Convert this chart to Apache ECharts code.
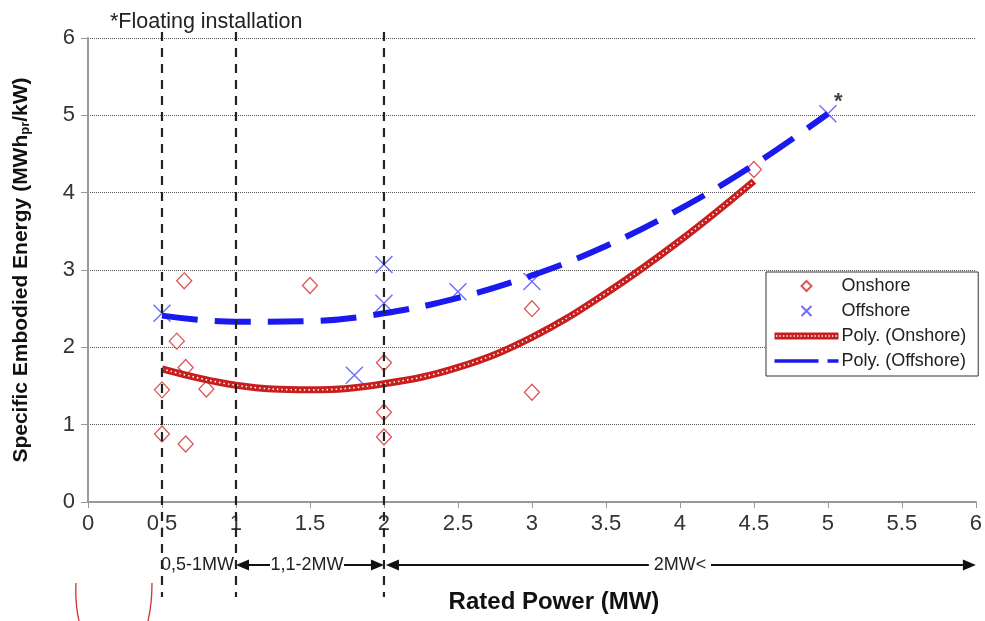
<!DOCTYPE html>
<html>
<head>
<meta charset="utf-8">
<style>
  html, body { margin: 0; padding: 0; background: #fff; }
  #main { width: 985px; height: 621px; }
</style>
<script src="https://cdn.jsdelivr.net/npm/echarts@6/dist/echarts.min.js"></script>
</head>
<body>
<div id="main"></div>
<script>
// scatter points [rated power MW, specific embodied energy]
const onshore = [
  [0.5, 0.88], [0.5, 1.45], [0.6, 2.08], [0.65, 2.86], [0.66, 1.74], [0.66, 0.75],
  [0.8, 1.46], [1.5, 2.8], [2, 1.8], [2, 1.16], [2, 0.84], [3, 2.5], [3, 1.42], [4.5, 4.3]
]
const offshore = [
  [0.5, 2.44], [1.8, 1.64], [2, 3.07], [2, 2.57], [2.5, 2.72], [3, 2.85], [5, 5.02]
]
// trend lines
const polyOnX = [0.5, 1, 1.5, 2, 2.5, 3, 3.5, 4, 4.5]
const polyOnY = [1.72, 1.51, 1.45, 1.53, 1.74, 2.13, 2.7, 3.38, 4.15]
const polyOffX = [0.5, 1, 1.5, 2, 2.5, 3, 3.5, 4, 4.5, 5]
const polyOffY = [2.41, 2.33, 2.34, 2.44, 2.64, 2.93, 3.31, 3.79, 4.36, 5.02]
// size classes
const regionBounds = [0.5, 1, 2, 6]
const regionLabels = ['0,5-1MW', '1,1-2MW', '2MW<']
const regionLabelX = [0.74, 1.48, 4.0]

const FONT = 'Liberation Sans, Arial, sans-serif'
const RED = '#d42a2a'
const BLUE = '#1a1aee'

// legend icons (64 x 12 box so nothing gets stretched)
const BOX = 'M0,0M64,12'
const iconDiamond = 'path://' + BOX + 'M32,1L37,6L32,11L27,6Z'
const iconCross = 'path://' + BOX + 'M27,1L37,11M37,1L27,11'
let iconDotted = 'path://' + BOX + 'M0,2.5H64V9.5H0Z'
for (let x = 1.5; x < 63; x += 3.5) {
  iconDotted += 'M' + x + ',5.3V6.7H' + (x + 1.4) + 'V5.3Z'
}
const iconDashed = 'path://' + BOX + 'M0,4.3H44V7.7H0ZM53,4.3H64V7.7H53Z'

const chart = echarts.init(document.getElementById('main'))

const option = {
  animation: false,
  grid: { left: 88, right: 7, top: 38, bottom: 119 },
  legend: {
    orient: 'vertical',
    left: 766,
    top: 272,
    data: [
      { name: 'Onshore', icon: iconDiamond },
      { name: 'Offshore', icon: iconCross },
      { name: 'Poly. (Onshore)', icon: iconDotted, itemStyle: { borderWidth: 0 } },
      { name: 'Poly. (Offshore)', icon: iconDashed, itemStyle: { borderWidth: 0 } },
    ],
    itemWidth: 64,
    itemHeight: 12,
    itemGap: 7,
    padding: [5, 12, 6, 6],
    backgroundColor: '#fff',
    borderColor: '#333',
    borderWidth: 1,
    textStyle: { fontSize: 18, color: '#222', fontFamily: FONT, padding: [0, 0, 0, -2] },
  },
  xAxis: {
    type: 'value',
    min: 0,
    max: 6,
    interval: 0.5,
    name: 'Rated Power (MW)',
    nameLocation: 'middle',
    nameGap: 88,
    nameTextStyle: { fontSize: 24, fontWeight: 'bold', color: '#111', fontFamily: FONT, padding: [0, 0, 0, 44] },
    axisLine: { lineStyle: { color: '#999', width: 2 } },
    axisTick: { show: true, length: 6, lineStyle: { color: '#999' } },
    axisLabel: { fontSize: 22, color: '#333', margin: 11, fontFamily: FONT },
    splitLine: { show: false },
  },
  yAxis: {
    type: 'value',
    min: 0,
    max: 6,
    interval: 1,
    name: 'Specific Embodied Energy (MWh{sub|pr}/kW)',
    nameLocation: 'middle',
    nameRotate: 90,
    nameGap: 56,
    nameTextStyle: {
      fontSize: 21, fontWeight: 'bold', color: '#111', fontFamily: FONT,
      rich: { sub: { fontSize: 13, fontWeight: 'bold', color: '#111', fontFamily: FONT, verticalAlign: 'bottom' } },
    },
    axisLine: { show: true, lineStyle: { color: '#999', width: 2 } },
    axisTick: { show: true, length: 7, lineStyle: { color: '#999' } },
    axisLabel: { fontSize: 22, color: '#333', margin: 13, fontFamily: FONT },
    splitLine: { show: true, lineStyle: { color: '#555', width: 1, type: [1, 1] } },
  },
  series: [
    {
      name: 'Onshore',
      type: 'scatter',
      symbol: 'diamond',
      symbolSize: [15, 16],
      itemStyle: { color: '#fff', borderColor: RED, borderWidth: 1.3 },
      data: onshore,
      z: 3,
    },
    {
      name: 'Offshore',
      type: 'scatter',
      symbol: 'path://M0,0L10,10M10,0L0,10',
      symbolSize: 17,
      itemStyle: { color: 'none', borderColor: '#4848ff', borderWidth: 1.4 },
      data: offshore.map(function (p, i) {
        if (i === offshore.length - 1) {
          return {
            value: p,
            label: { show: true, formatter: '*', position: [17, -12], fontSize: 22, fontWeight: 'bold', color: '#111' },
          }
        }
        return p
      }),
      z: 3,
    },
    {
      name: 'Poly. (Onshore)',
      type: 'line',
      smooth: 0.4,
      showSymbol: false,
      symbol: 'none',
      itemStyle: { color: '#c81e1e' },
      lineStyle: { color: '#c81e1e', width: 7 },
      data: polyOnX.map((x, i) => [x, polyOnY[i]]),
      z: 4,
    },
    {
      // white dots inside the red trend line
      type: 'line',
      smooth: 0.4,
      showSymbol: false,
      symbol: 'none',
      silent: true,
      lineStyle: { color: '#fff', width: 1.6, type: [1.5, 3] },
      data: polyOnX.map((x, i) => [x, polyOnY[i]]),
      z: 5,
    },
    {
      name: 'Poly. (Offshore)',
      type: 'line',
      smooth: 0.4,
      showSymbol: false,
      symbol: 'none',
      itemStyle: { color: BLUE },
      lineStyle: { color: BLUE, width: 6, type: [36, 17] },
      data: polyOffX.map((x, i) => [x, polyOffY[i]]),
      z: 4,
    },
  ],
}

chart.setOption(option)

// annotations built from axis positions
function px(x) { return chart.convertToPixel({ xAxisIndex: 0 }, x) }
function py(y) { return chart.convertToPixel({ yAxisIndex: 0 }, y) }

const graphics = []
const yTop = py(6) - 6
const yBot = py(0) + 95
regionBounds.slice(0, 3).forEach(function (b) {
  graphics.push({
    type: 'line',
    shape: { x1: px(b), y1: yTop, x2: px(b), y2: yBot },
    style: { stroke: '#222', lineWidth: 2.2, lineDash: [9, 7] },
    z: 10,
  })
})

const ry = py(0) + 63
const ah = 13, aw = 5.5
function arrowLeft(x) {
  return { type: 'polygon', shape: { points: [[x, ry], [x + ah, ry - aw], [x + ah, ry + aw]] }, style: { fill: '#111' }, z: 10 }
}
function arrowRight(x) {
  return { type: 'polygon', shape: { points: [[x, ry], [x - ah, ry - aw], [x - ah, ry + aw]] }, style: { fill: '#111' }, z: 10 }
}
function hline(x1, x2) {
  return { type: 'line', shape: { x1: x1, y1: ry, x2: x2, y2: ry }, style: { stroke: '#111', lineWidth: 2 }, z: 10 }
}
function label(txt, x) {
  return {
    type: 'text', x: x, y: ry, z: 10,
    style: { text: txt, fontSize: 18, fontFamily: FONT, fill: '#222', align: 'center', verticalAlign: 'middle' },
  }
}
graphics.push(label(regionLabels[0], px(regionLabelX[0])))
graphics.push(arrowLeft(px(1)), hline(px(1) + ah, px(1.23)))
graphics.push(label(regionLabels[1], px(regionLabelX[1])))
graphics.push(hline(px(1.73), px(2) - ah), arrowRight(px(2)))
graphics.push(arrowLeft(px(2) + 2), hline(px(2) + 2 + ah, px(3.79)))
graphics.push(label(regionLabels[2], px(regionLabelX[2])))
graphics.push(hline(px(4.21), px(6) - ah), arrowRight(px(6)))

graphics.push({
  type: 'text', x: 110, y: 22, z: 10,
  style: { text: '*Floating installation', fontSize: 21.5, fontFamily: FONT, fill: '#222', verticalAlign: 'middle' },
})
// red pen marks at the lower left of the scan
graphics.push({
  type: 'bezierCurve',
  shape: { x1: 76, y1: 583, x2: 79, y2: 621, cpx1: 75, cpy1: 604 },
  style: { stroke: '#d43030', lineWidth: 1.3, fill: 'none' },
})
graphics.push({
  type: 'bezierCurve',
  shape: { x1: 152, y1: 583, x2: 148, y2: 621, cpx1: 152, cpy1: 604 },
  style: { stroke: '#d43030', lineWidth: 1.3, fill: 'none' },
})

chart.setOption({ graphic: graphics })
</script>
</body>
</html>
